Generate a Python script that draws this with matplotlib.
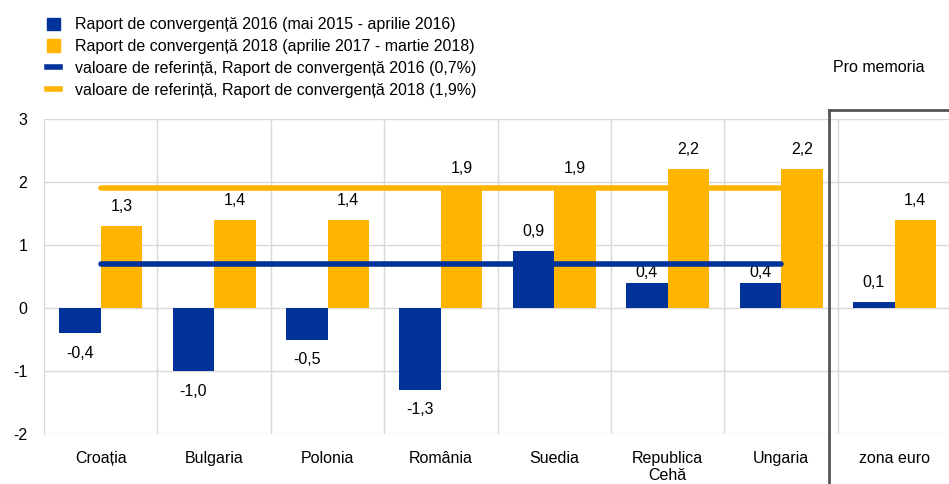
import numpy as np
import matplotlib.pyplot as plt
from matplotlib.lines import Line2D

plt.rcParams['font.family'] = ['Liberation Sans', 'DejaVu Sans']

# categories and values
categories = ['Croația', 'Bulgaria', 'Polonia', 'România', 'Suedia', 'Republica\nCehă', 'Ungaria', 'zona euro']
cr2016 = [-0.4, -1.0, -0.5, -1.3, 0.9, 0.4, 0.4, 0.1]
cr2018 = [1.3, 1.4, 1.4, 1.9, 1.9, 2.2, 2.2, 1.4]
ref2016 = 0.7
ref2018 = 1.9
legend_labels = ['Raport de convergență 2016 (mai 2015 - aprilie 2016)',
                 'Raport de convergență 2018 (aprilie 2017 - martie 2018)',
                 'valoare de referință, Raport de convergență 2016 (0,7%)',
                 'valoare de referință, Raport de convergență 2018 (1,9%)']

blue = '#003299'
yellow = '#FFB400'
grid_c = '#d9d9d9'
fs = 11.5

fig = plt.figure(figsize=(9.49, 4.84), dpi=100)
ax = fig.add_axes([44/949, 50/484, 1 - 44/949, 315/484])

x = np.arange(len(categories))
w = 0.366
ax.bar(x - w/2, cr2016, w, color=blue, zorder=3)
ax.bar(x + w/2, cr2018, w, color=yellow, zorder=3)

# reference lines over the seven countries
ax.plot([0, 6], [ref2018, ref2018], color=yellow, lw=4, solid_capstyle='round', zorder=4)
ax.plot([0, 6], [ref2016, ref2016], color=blue, lw=4, solid_capstyle='round', zorder=4)

def fmt(v):
    return ('%.1f' % v).replace('.', ',')

for i, (xi, v) in enumerate(zip(x - w/2, cr2016)):
    if v < 0:
        ax.text(xi, v - 0.2, fmt(v), ha='center', va='top', fontsize=fs)
    elif i < 7 and v < ref2016 < v + 0.45:
        # squeezed under the reference line
        ax.text(xi, v + 0.04, fmt(v), ha='center', va='bottom', fontsize=fs)
    else:
        ax.text(xi, v + 0.19, fmt(v), ha='center', va='bottom', fontsize=fs)
for xi, v in zip(x + w/2, cr2018):
    ax.text(xi, v + 0.19, fmt(v), ha='center', va='bottom', fontsize=fs)

ax.set_ylim(-2, 3)
ax.set_xlim(-0.5, 7.48)
ax.set_yticks([-2, -1, 0, 1, 2, 3])
ax.set_yticklabels(['-2', '-1', '0', '1', '2', '3'], fontsize=fs)
ax.set_xticks(x)
ax.set_xticklabels(categories, fontsize=fs, va='top')
ax.set_xticks(np.arange(0.5, 7.5, 1), minor=True)
ax.tick_params(axis='both', which='both', length=0)
ax.tick_params(axis='y', pad=12)
ax.tick_params(axis='x', pad=12)
ax.grid(axis='y', color=grid_c, lw=1, zorder=0)
ax.grid(axis='x', which='minor', color=grid_c, lw=1, zorder=0)
for s in ['top', 'right', 'bottom']:
    ax.spines[s].set_visible(False)
ax.spines['left'].set_color(grid_c)

# dark box around the "Pro memoria" section
fig.add_artist(Line2D([829/949, 829/949], [0, 1 - 110/484], color='#555555', lw=2))
fig.add_artist(Line2D([829/949, 1], [1 - 110/484, 1 - 110/484], color='#555555', lw=2))
fig.text(879/949, 1 - 67/484, 'Pro memoria', ha='center', va='center', fontsize=fs)

# legend
handles = [plt.Rectangle((0, 0), 1, 1, color=blue),
           plt.Rectangle((0, 0), 1, 1, color=yellow),
           Line2D([], [], color=blue, lw=4),
           Line2D([], [], color=yellow, lw=4)]
fig.legend(handles, legend_labels, loc='upper left', bbox_to_anchor=(33/949, 1 - 3/484),
           frameon=False, fontsize=fs, handlelength=0.8, handleheight=0.8,
           labelspacing=0.42, handletextpad=0.9)

fig.savefig('out.png', dpi=100)
